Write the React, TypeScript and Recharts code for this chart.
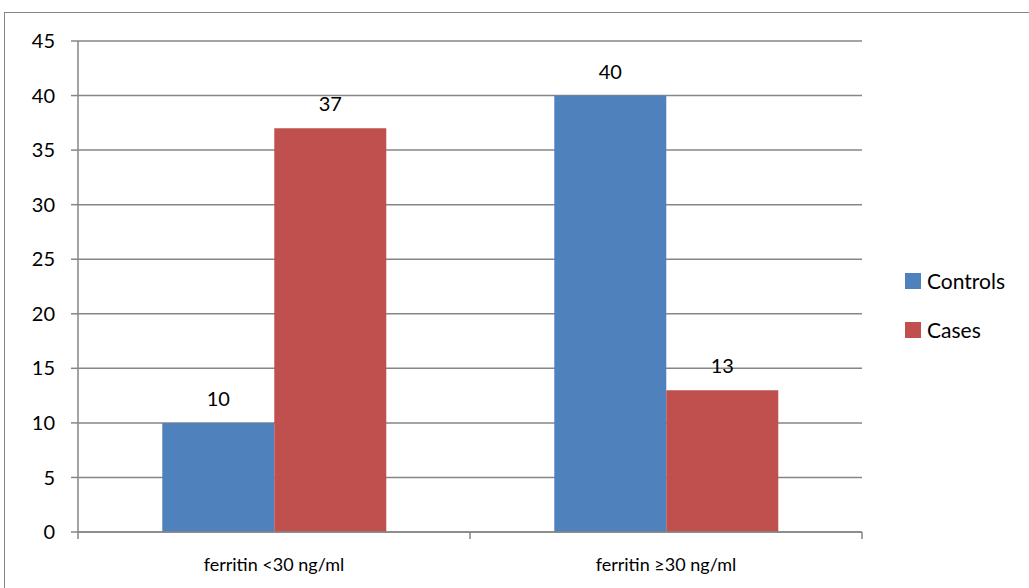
import { Bar, BarChart, CartesianGrid, LabelList, XAxis, YAxis } from "recharts";

const categories = ["ferritin <30 ng/ml", "ferritin ≥30 ng/ml"];
const controls = [10, 40];
const cases = [37, 13];
const yTicks = [0, 5, 10, 15, 20, 25, 30, 35, 40, 45];
const seriesNames = ["Controls", "Cases"];

const blue = "#4F81BD";
const red = "#C0504D";
const gray = "#868686";
const font = "Lato, 'Open Sans', sans-serif";
const seriesColors = [blue, red];

const data = categories.map((name, i) => ({ name, Controls: controls[i], Cases: cases[i] }));

// category label plus Excel-style tick marks between categories
function CatTick(props: any) {
  const { x, y, payload, index } = props;
  const half = payload && payload.offset ? payload.offset : 196;
  const last = index === categories.length - 1;
  const top = y - 26;
  return (
    <g>
      <line x1={x - half} x2={x - half} y1={top} y2={top + 7} stroke={gray} strokeWidth={1.5} />
      {last && <line x1={x + half} x2={x + half} y1={top} y2={top + 7} stroke={gray} strokeWidth={1.5} />}
      <text x={x} y={y} dy="0.71em" textAnchor="middle" fill="#000" fontSize={18} fontFamily={font}>
        {payload.value}
      </text>
    </g>
  );
}

export default function App() {
  return (
    <div style={{ position: "absolute", left: 0, top: 0, width: 1029, height: 588, background: "#fff", overflow: "hidden" }}>
      <div style={{ position: "absolute", left: 4, top: 12, width: 1100, height: 700, border: `1.5px solid ${gray}` }} />
      <BarChart
        width={1029}
        height={588}
        data={data}
        margin={{ left: 18, right: 167, top: 41, bottom: 16 }}
        barCategoryGap="21.5%"
        barGap={0}
        style={{ position: "absolute", left: 0, top: 0, fontFamily: font }}
      >
        <CartesianGrid vertical={false} stroke={gray} strokeWidth={1.5} />
        <XAxis
          dataKey="name"
          stroke={gray}
          strokeWidth={1.5}
          tickLine={false}
          tickSize={0}
          tickMargin={26}
          height={40}
          interval={0}
          tick={<CatTick />}
        />
        <YAxis
          domain={[0, 45]}
          ticks={yTicks}
          width={60}
          stroke={gray}
          strokeWidth={1.5}
          tickSize={7}
          tickMargin={16}
          tick={{ fill: "#000", fontSize: 20, fontFamily: font }}
        />
        <Bar dataKey="Controls" fill={blue} isAnimationActive={false}>
          <LabelList dataKey="Controls" position="top" offset={17} style={{ fill: "#000", fontSize: 20, fontFamily: font }} />
        </Bar>
        <Bar dataKey="Cases" fill={red} isAnimationActive={false}>
          <LabelList dataKey="Cases" position="top" offset={17} style={{ fill: "#000", fontSize: 20, fontFamily: font }} />
        </Bar>
      </BarChart>
      <div style={{ position: "absolute", left: 905, top: 256, fontFamily: font, fontSize: 21, color: "#000" }}>
        {seriesNames.map((n, i) => (
          <div key={n} style={{ display: "flex", alignItems: "center", height: 49 }}>
            <span style={{ width: 16, height: 16, background: seriesColors[i], marginRight: 6, display: "inline-block" }} />
            <span>{n}</span>
          </div>
        ))}
      </div>
    </div>
  );
}
